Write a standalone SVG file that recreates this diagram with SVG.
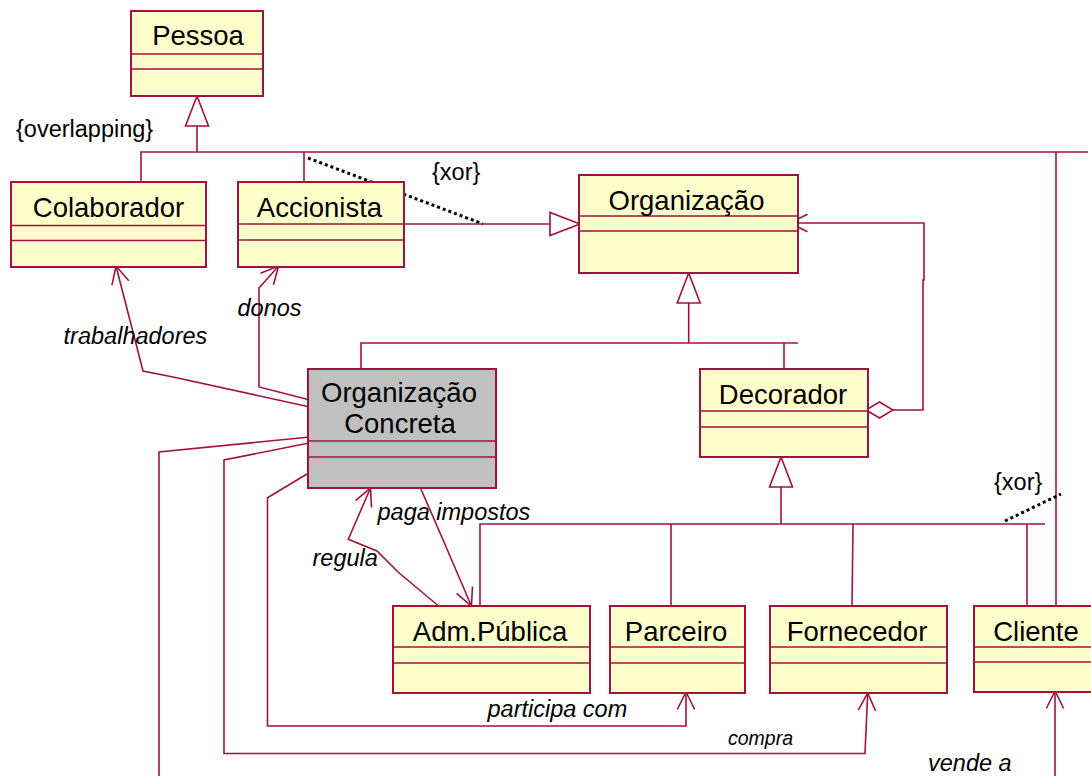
<svg xmlns="http://www.w3.org/2000/svg" width="1091" height="776" viewBox="0 0 1091 776">
<style>
.box{fill:#FFFFCC;stroke:#A3123F;stroke-width:2}
.gray{fill:#C0C0C0;stroke:#A3123F;stroke-width:2}
.div{stroke:#A3123F;stroke-width:1.5;fill:none}
.name{font-family:"Liberation Sans",Arial,sans-serif;font-size:27.5px;fill:#000;text-anchor:middle}
.lbl{font-family:"Liberation Sans",Arial,sans-serif;font-size:23.5px;fill:#000}
.it{font-style:italic}
.ln{fill:none;stroke:#A3123F;stroke-width:1.6}
.dot{fill:none;stroke:#000;stroke-width:3;stroke-dasharray:3 3}
</style>
<defs>
<marker id="gen" markerUnits="userSpaceOnUse" viewBox="-32 -13 34 26" refX="0" refY="0" markerWidth="34" markerHeight="26" orient="auto" overflow="visible">
<path d="M0 0 L-30 -11.5 L-30 11.5 Z" fill="#fff" stroke="#A3123F" stroke-width="1.6"/>
</marker>
<marker id="open" markerUnits="userSpaceOnUse" viewBox="-22 -12 24 24" refX="0" refY="0" markerWidth="24" markerHeight="24" orient="auto" overflow="visible">
<path d="M-17.5 -8.7 L0 0 L-17.5 8.7" fill="none" stroke="#A3123F" stroke-width="1.6"/>
</marker>
<marker id="dia" markerUnits="userSpaceOnUse" viewBox="-2 -10 32 20" refX="0" refY="0" markerWidth="32" markerHeight="20" orient="auto" overflow="visible">
<path d="M0 0 L13.5 -8 L27 0 L13.5 8 Z" fill="#fff" stroke="#A3123F" stroke-width="1.6"/>
</marker>
</defs>
<g id="connectors">
<path class="ln" d="M141 182 L141 152 L1088 152"/>
<path class="ln" d="M304 152 L304 182"/>
<path class="ln" d="M1056 152 L1056 606"/>
<path class="ln" d="M197 152 L197 96" marker-end="url(#gen)"/>
<path class="dot" d="M308 158 L483 224"/>
<path class="ln" d="M404 224 L580 224" marker-end="url(#gen)"/>
<path class="ln" d="M361 369 L361 343 L798 343"/>
<path class="ln" d="M784 343 L784 369"/>
<path class="ln" d="M688.7 343 L688.7 273" marker-end="url(#gen)"/>
<path class="ln" d="M480 606 L480 524 L1045 524"/>
<path class="ln" d="M671 524 L671 606"/>
<path class="ln" d="M853 524 L852 606"/>
<path class="ln" d="M1027 524 L1027 606"/>
<path class="ln" d="M781 524 L781 457" marker-end="url(#gen)"/>
<path class="dot" d="M1005 521 L1061 494"/>
<path class="ln" d="M866 410 L923 410 L923 280 L924 280 L924 223 L790 223" marker-start="url(#dia)" marker-end="url(#open)"/>
<path class="ln" d="M310 407 L173 377 L143 371 L116 266" marker-end="url(#open)"/>
<path class="ln" d="M310 400 L259 387 L259 288 L278.6 266" marker-end="url(#open)"/>
<path class="ln" d="M310 437 L159 452 L159 800 L1055 800 L1055 691" marker-end="url(#open)"/>
<path class="ln" d="M309 443 L224 460 L224 753.5 L865 753.5 L867.7 693" marker-end="url(#open)"/>
<path class="ln" d="M307 474 L267.5 497.7 L267.5 726 L686 726 L686 692" marker-end="url(#open)"/>
<path class="ln" d="M420.5 488 L446 546.7 L471.4 606" marker-end="url(#open)"/>
<path class="ln" d="M438.6 606 L398 572 L377 551 L348.3 539.3 L370.5 488" marker-end="url(#open)"/>
<text class="lbl" x="16" y="137">{overlapping}</text>
<text class="lbl" x="432" y="180">{xor}</text>
<text class="lbl" x="994" y="490">{xor}</text>
<text class="lbl it" x="63.6" y="344">trabalhadores</text>
<text class="lbl it" x="237.5" y="316">donos</text>
<text class="lbl it" x="377.5" y="520">paga impostos</text>
<text class="lbl it" x="312.5" y="566">regula</text>
<text class="lbl it" x="487.5" y="717">participa com</text>
<text class="lbl it" x="728" y="745" style="font-size:19.5px">compra</text>
<text class="lbl it" x="928" y="771">vende a</text>
</g>
<g id="Pessoa">
<rect class="box" x="131" y="11" width="132" height="85"/>
<path class="div" d="M131 54 H263 M131 69 H263"/>
<text class="name" x="198" y="45">Pessoa</text>
</g>
<g id="Colaborador">
<rect class="box" x="11" y="182" width="195" height="85"/>
<path class="div" d="M11 225.5 H206 M11 240.5 H206"/>
<text class="name" x="108.5" y="217">Colaborador</text>
</g>
<g id="Accionista">
<rect class="box" x="238" y="182" width="166" height="85"/>
<path class="div" d="M238 224 H404 M238 240 H404"/>
<text class="name" x="319.5" y="217">Accionista</text>
</g>
<g id="Organizacao">
<rect class="box" x="579" y="175" width="219" height="98"/>
<path class="div" d="M579 216 H798 M579 231 H798"/>
<text class="name" x="686.5" y="210">Organização</text>
</g>
<g id="OrganizacaoConcreta">
<rect class="gray" x="308" y="369" width="188" height="119"/>
<path class="div" d="M308 441 H496 M308 457 H496"/>
<text class="name" x="399" y="402">Organização</text>
<text class="name" x="400" y="433">Concreta</text>
</g>
<g id="Decorador">
<rect class="box" x="700" y="369" width="168" height="88"/>
<path class="div" d="M700 411 H868 M700 427 H868"/>
<text class="name" x="783" y="404">Decorador</text>
</g>
<g id="AdmPublica">
<rect class="box" x="393" y="606" width="197" height="87"/>
<path class="div" d="M393 647 H590 M393 663 H590"/>
<text class="name" x="490" y="641">Adm.Pública</text>
</g>
<g id="Parceiro">
<rect class="box" x="610" y="606" width="135" height="87"/>
<path class="div" d="M610 647 H745 M610 663 H745"/>
<text class="name" x="676" y="641">Parceiro</text>
</g>
<g id="Fornecedor">
<rect class="box" x="770" y="606" width="177" height="87"/>
<path class="div" d="M770 647 H947 M770 663 H947"/>
<text class="name" x="857" y="641">Fornecedor</text>
</g>
<g id="Cliente">
<rect class="box" x="974" y="606" width="130" height="86"/>
<path class="div" d="M974 647 H1104 M974 662 H1104"/>
<text class="name" x="1036" y="641">Cliente</text>
</g>
</svg>
